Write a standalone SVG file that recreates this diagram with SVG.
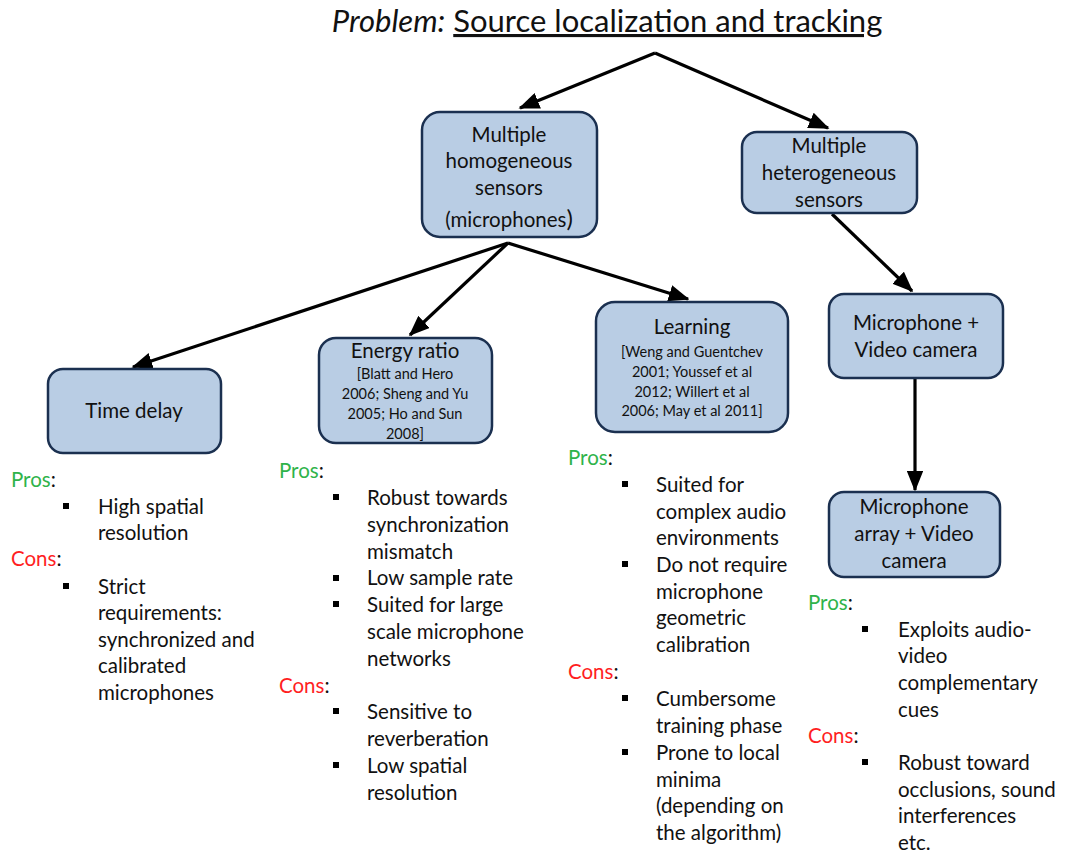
<svg xmlns="http://www.w3.org/2000/svg" width="1072" height="855" viewBox="0 0 1072 855">
<defs>
<marker id="ah" markerWidth="6.5" markerHeight="5.2" refX="6" refY="2.6" orient="auto" markerUnits="strokeWidth">
<path d="M0,0 L6.5,2.6 L0,5.2 Z" fill="#000"/>
</marker>
<style>
text{font-family:Lato,"Liberation Sans",sans-serif;fill:#111}
.box{fill:#b9cde4;stroke:#1b3050;stroke-width:2.5}
.n{font-size:20.5px;text-anchor:middle}
.r{font-size:14.5px;text-anchor:middle}
.t{font-size:20.5px}
.pro{fill:#2fb34a}
.con{fill:#ff1f1f}
.c line{stroke:#000;stroke-width:3.2;marker-end:url(#ah)}
.b{fill:#000}
</style>
</defs>
<rect width="1072" height="855" fill="#fff"/>
<g id="title">
<text x="607" y="32" style="font-size:31px;text-anchor:middle"><tspan font-style="italic">Problem:</tspan> <tspan text-decoration="underline">Source localization and tracking</tspan></text>
</g>
<g class="c" id="connectors">
<line x1="655" y1="53" x2="520" y2="108"/>
<line x1="655" y1="53" x2="828" y2="128"/>
<line x1="508" y1="243" x2="133" y2="367"/>
<line x1="508" y1="243" x2="410" y2="335"/>
<line x1="508" y1="243" x2="688" y2="299"/>
<line x1="832" y1="214" x2="912" y2="291"/>
<line x1="915" y1="378" x2="915" y2="490"/>
</g>
<g id="n-homog">
<rect class="box" x="422" y="112" width="175" height="125" rx="18"/>
<text class="n" x="509" y="142">Multiple</text>
<text class="n" x="509" y="168">homogeneous</text>
<text class="n" x="509" y="195">sensors</text>
<text class="n" x="509" y="227">(microphones<tspan font-size="24">)</tspan></text>
</g>
<g id="n-heterog">
<rect class="box" x="742" y="132" width="175" height="81" rx="15"/>
<text class="n" x="829" y="153">Multiple</text>
<text class="n" x="829" y="180">heterogeneous</text>
<text class="n" x="829" y="207">sensors</text>
</g>
<g id="n-timedelay">
<rect class="box" x="48" y="369" width="173" height="84" rx="15"/>
<text class="n" x="134" y="418">Time delay</text>
</g>
<g id="n-energy">
<rect class="box" x="319" y="338" width="173" height="105" rx="17"/>
<text class="n" x="405" y="358">Energy ratio</text>
<text class="r" x="405" y="379">[Blatt and Hero</text>
<text class="r" x="405" y="399">2006; Sheng and Yu</text>
<text class="r" x="405" y="419">2005; Ho and Sun</text>
<text class="r" x="405" y="439">2008]</text>
</g>
<g id="n-learning">
<rect class="box" x="596" y="302" width="192" height="130" rx="19"/>
<text class="n" x="692" y="334">Learning</text>
<text class="r" x="692" y="357">[Weng and Guentchev</text>
<text class="r" x="692" y="377">2001; Youssef et al</text>
<text class="r" x="692" y="397">2012; Willert et al</text>
<text class="r" x="692" y="416">2006; May et al 2011]</text>
</g>
<g id="n-micvideo">
<rect class="box" x="829" y="294" width="174" height="84" rx="15"/>
<text class="n" x="916" y="330">Microphone +</text>
<text class="n" x="916" y="357">Video camera</text>
</g>
<g id="n-arrayvideo">
<rect class="box" x="829" y="492" width="171" height="85" rx="15"/>
<text class="n" x="914" y="514">Microphone</text>
<text class="n" x="914" y="541">array + Video</text>
<text class="n" x="914" y="568">camera</text>
</g>
<g id="list-timedelay">
<text class="t" x="11" y="487"><tspan class="pro">Pros</tspan>:</text>
<rect class="b" x="63" y="503" width="6" height="6"/>
<text class="t" x="98" y="514">High spatial</text>
<text class="t" x="98" y="540">resolution</text>
<text class="t" x="11" y="566"><tspan class="con">Cons</tspan>:</text>
<rect class="b" x="63" y="583" width="6" height="6"/>
<text class="t" x="98" y="594">Strict</text>
<text class="t" x="98" y="620">requirements:</text>
<text class="t" x="98" y="647">synchronized and</text>
<text class="t" x="98" y="673">calibrated</text>
<text class="t" x="98" y="700">microphones</text>
</g>
<g id="list-energy">
<text class="t" x="279" y="478"><tspan class="pro">Pros</tspan>:</text>
<rect class="b" x="333" y="494" width="6" height="6"/>
<text class="t" x="367" y="505">Robust towards</text>
<text class="t" x="367" y="532">synchronization</text>
<text class="t" x="367" y="559">mismatch</text>
<rect class="b" x="333" y="575" width="6" height="6"/>
<text class="t" x="367" y="585">Low sample rate</text>
<rect class="b" x="333" y="601" width="6" height="6"/>
<text class="t" x="367" y="612">Suited for large</text>
<text class="t" x="367" y="639">scale microphone</text>
<text class="t" x="367" y="666">networks</text>
<text class="t" x="279" y="693"><tspan class="con">Cons</tspan>:</text>
<rect class="b" x="333" y="708" width="6" height="6"/>
<text class="t" x="367" y="719">Sensitive to</text>
<text class="t" x="367" y="746">reverberation</text>
<rect class="b" x="333" y="762" width="6" height="6"/>
<text class="t" x="367" y="773">Low spatial</text>
<text class="t" x="367" y="800">resolution</text>
</g>
<g id="list-learning">
<text class="t" x="568" y="465"><tspan class="pro">Pros</tspan>:</text>
<rect class="b" x="622" y="481" width="6" height="6"/>
<text class="t" x="656" y="492">Suited for</text>
<text class="t" x="656" y="519">complex audio</text>
<text class="t" x="656" y="545">environments</text>
<rect class="b" x="622" y="561" width="6" height="6"/>
<text class="t" x="656" y="572">Do not require</text>
<text class="t" x="656" y="599">microphone</text>
<text class="t" x="656" y="625">geometric</text>
<text class="t" x="656" y="652">calibration</text>
<text class="t" x="568" y="679"><tspan class="con">Cons</tspan>:</text>
<rect class="b" x="622" y="695" width="6" height="6"/>
<text class="t" x="656" y="706">Cumbersome</text>
<text class="t" x="656" y="733">training phase</text>
<rect class="b" x="622" y="749" width="6" height="6"/>
<text class="t" x="656" y="760">Prone to local</text>
<text class="t" x="656" y="787">minima</text>
<text class="t" x="656" y="813">(depending on</text>
<text class="t" x="656" y="840">the algorithm)</text>
</g>
<g id="list-av">
<text class="t" x="808" y="610"><tspan class="pro">Pros</tspan>:</text>
<rect class="b" x="862" y="626" width="6" height="6"/>
<text class="t" x="898" y="637">Exploits audio-</text>
<text class="t" x="898" y="663">video</text>
<text class="t" x="898" y="690">complementary</text>
<text class="t" x="898" y="717">cues</text>
<text class="t" x="808" y="743"><tspan class="con">Cons</tspan>:</text>
<rect class="b" x="862" y="759" width="6" height="6"/>
<text class="t" x="898" y="770">Robust toward</text>
<text class="t" x="898" y="797">occlusions, sound</text>
<text class="t" x="898" y="823">interferences</text>
<text class="t" x="898" y="850">etc.</text>
</g>
</svg>
